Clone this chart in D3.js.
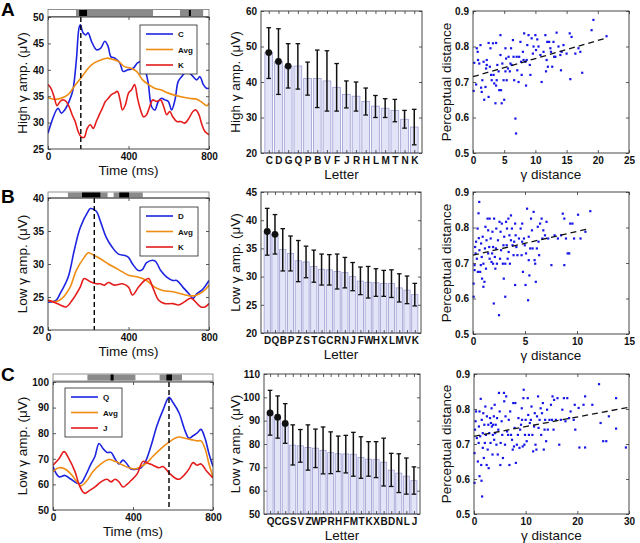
<!DOCTYPE html>
<html><head><meta charset="utf-8">
<script src="https://cdn.jsdelivr.net/npm/d3@7"></script>
<style>
body{margin:0;background:#fff;}
text{font-family:"Liberation Sans",Arial,Helvetica,sans-serif;}
</style></head>
<body><div id="chart"></div>
<script>
// ---------------- DATA ----------------
// Panel A time courses (time ms, value µV)
const A_C_t = [0,50,66,83,108,124,141,154,161,174,188,199,216,241,262,282,299,312,332,357,373,398,423,445,465,481,498,515,531,548,564,581,598,614,631,647,664,689,714,739,755,772,788,800];
const A_C_v = [28,32.7,31.8,32.4,34.3,36.2,41.9,47.9,48.5,47,46.6,47,45.4,43.8,44.1,45.4,44.4,42.5,42.2,41.3,39.7,40,40.3,41.3,41.6,40.3,37.5,33,32.4,34,34.6,34.3,34,32.4,34.3,37.8,38.7,39.7,39,38.1,38.7,37.2,36.5,36.5];
const A_Avg_t = [0,40,83,108,124,150,175,200,230,260,290,320,350,380,410,440,470,500,530,560,590,620,660,700,740,770,790,800];
const A_Avg_v = [34.7,34.4,34.9,35.6,36.5,37.8,39,40.3,41.3,41.8,42.2,42,41.6,40.6,40.3,39.7,38.1,37.2,36.5,36.2,35.7,35.3,34.9,34.6,34.4,33.7,33.2,33.7];
const A_K_t = [0,15,30,45,60,75,90,105,120,135,150,165,180,195,210,225,240,255,270,285,300,315,330,345,358,370,385,400,415,430,445,460,475,490,505,520,540,560,575,590,605,620,640,660,680,700,720,735,750,765,780,800];
const A_K_v = [37.2,36.5,34.9,33.2,34,34.3,34,33,31.5,30.2,28.3,27.3,27.2,28.9,29.6,28.9,30.2,31.5,32.7,34,34.6,35.3,35.6,35.9,34.3,32.4,33.4,35.6,36.2,37.2,34.6,32.4,31.1,31.5,33,34.3,34,34.3,33,31.5,32.1,31.1,30.2,30.2,29.9,30.8,32.1,32.4,31.5,29.6,28.3,27.7];

// Panel B time courses
const B_D_t = [0,40,60,100,130,160,200,210,240,260,290,320,350,380,400,420,450,470,490,530,560,590,620,640,670,700,720,740,770,800];
const B_D_v = [24.2,24.5,25.5,28,32,35.5,38,38.4,38,36.5,34,32.5,31.5,31.3,31,30,29,29.2,30.2,30.5,29,28,27.5,27.5,26.5,25.5,24.8,25.5,26.2,27.5];
const B_Avg_t = [0,40,70,110,140,180,200,230,260,300,330,370,400,450,490,530,570,620,660,700,730,770,800];
const B_Avg_v = [24.5,24.3,24.8,26.5,29,31,31.7,31.3,30.8,30,29.5,28.8,28.3,28,27.5,26.5,26,25.8,25.5,25.2,25.2,25.8,26.8];
const B_K_t = [0,30,60,90,120,160,180,210,240,260,280,300,330,370,400,420,450,480,500,520,550,580,620,650,680,710,760,780,800];
const B_K_v = [24.5,24.2,23.8,23.5,24.5,26.5,27.8,27.3,27,27,26.8,27.2,26.8,27,26.5,25.3,26.5,27.5,27.8,26.5,24.5,24,24,23.8,24.3,24.8,23.5,23.5,24];

// Panel C time courses
const C_Q_t = [0,30,60,90,120,140,160,190,210,230,250,270,290,310,330,350,370,390,420,440,460,490,520,550,580,600,630,660,680,700,720,740,760,780,800];
const C_Q_v = [67,63,63.5,62,60.5,60.5,63,68,71,76,74,72.5,72.5,70,68,69.5,68,66,66,66.5,68.5,75,83,89,94,92,88,81,78,79,80,81.5,78,72,67];
const C_Avg_t = [0,30,60,90,120,140,170,200,240,280,310,350,380,410,440,470,500,540,580,610,630,660,690,720,740,760,780,800];
const C_Avg_v = [65,66.5,66,64,61,59.5,61.5,65,68,69.7,69,67.5,66.5,66,67,68.5,71,74,76.5,78,78.5,78,77.5,77,77,74,68,63];
const C_J_t = [0,30,55,80,110,130,150,160,180,210,240,270,290,310,330,350,370,390,420,450,470,500,530,550,580,610,630,660,680,700,720,740,770,800];
const C_J_v = [67.5,70,72.8,70,65,60,57,56.5,57.5,59,61,62,61,62,61,59,60,61.5,64,69,68.5,67.5,66.5,67,64.5,62.5,62,64,66,68.5,67.5,68,65,62.5];

// Peak times (dashed markers)
const peakTimes = [163, 230, 580];

// Significance strips: [start ms, end ms, level] (1 = gray, 2 = black)
const stripA = [[139,522,1],[155,194,2],[656,771,1],[700,710,2]];
const stripB = [[99,296,1],[169,260,2],[326,471,1],[354,403,2]];
const stripC = [[172,412,1],[288,303,2],[533,645,1],[567,595,2]];

// Bar panels
const A_letters = ["C","D","G","Q","P","B","V","F","J","R","H","L","M","T","N","K"];
const A_mean = [48.3,45.8,44.5,44.5,41,41,40.3,38.5,36.5,36,34.5,33.2,32.6,32,29.5,27.3];
const A_lo   = [41,36.5,38.3,38,36.3,32.8,31.8,31.8,32.7,31.8,30.7,30,30,28.8,27,22.3];
const A_hi   = [55.3,55,50.8,50.8,45.6,49,48.8,45.2,40.3,40,38.3,36.2,35.3,35.1,32,32.3];
const A_sig  = 3;

const B_letters = ["D","Q","B","P","Z","S","T","G","C","R","N","J","F","W","H","X","L","M","V","K"];
const B_mean = [38,37.5,34.8,34.1,32.8,32.6,31.8,31.3,31.2,30.9,30.7,30,29.2,29,28.9,28.8,28.8,28,27.6,26.8];
const B_lo   = [33.8,34,31,31,29.1,29.8,29,28.5,28.5,27.8,28,27.5,26.8,26.2,26.5,26.5,26.3,25.5,25.2,24.8];
const B_hi   = [42.1,41,38.5,37.2,36.4,35.4,34.7,34,33.9,34,33.4,32.5,31.7,31.8,31.4,31.1,31.2,30.5,30.1,28.8];
const B_sig  = 2;

const C_letters = ["Q","C","G","S","V","Z","W","P","R","H","F","M","T","K","X","B","D","N","L","J"];
const C_mean = [93.3,91.5,88.8,79.5,79.2,78.5,78.2,77.3,76.3,75.8,75.7,75.6,74.2,73.5,73.3,72.2,68.8,67.5,66.2,64.3];
const C_lo   = [83.8,82.5,80.3,71,72.2,68.8,69.9,67.2,67.3,68.2,67.6,66.2,65.3,66.2,65.6,62,61.8,59.2,58.5,58.5];
const C_hi   = [103,100.6,97.3,88.2,86.2,88.2,86.4,87.3,85.2,83.4,83.7,85,83.1,81,81,82.5,76,75.8,74,70.2];
const C_sig  = 3;

// Scatter panels (γ distance, perceptual distance)
const SA_x = [0.1,0.2,0.5,0.6,0.75,0.8,1.0,1.2,1.3,1.4,1.5,1.7,1.8,2.0,2.1,2.2,2.2,2.5,2.5,2.7,2.8,2.9,3.0,3.2,3.3,3.4,3.6,3.7,3.7,3.8,3.9,4.1,4.2,4.4,4.4,4.5,4.6,4.7,4.9,5.0,5.2,5.2,5.3,5.4,5.6,5.7,5.9,6.0,6.1,6.2,6.4,6.5,6.6,6.8,6.9,7.0,7.1,7.3,7.4,7.6,7.7,7.8,8.0,8.1,8.2,8.4,8.5,8.6,8.7,8.9,9.1,9.2,9.4,9.6,9.7,10.0,10.1,10.3,10.5,10.8,11.0,11.3,11.6,11.7,11.8,11.9,12.0,12.2,12.4,12.5,12.7,12.9,13.0,13.2,13.4,13.7,14.0,14.1,14.2,14.5,15.0,15.5,15.6,15.8,16.4,16.9,17.2,17.5,19.0,19.3,21.4];
const SA_y = [0.675,0.754,0.693,0.795,0.785,0.762,0.752,0.804,0.684,0.672,0.705,0.757,0.65,0.686,0.738,0.762,0.748,0.81,0.658,0.743,0.795,0.72,0.705,0.809,0.72,0.696,0.64,0.81,0.69,0.705,0.748,0.73,0.677,0.832,0.776,0.677,0.64,0.752,0.705,0.65,0.795,0.73,0.766,0.705,0.738,0.771,0.73,0.752,0.795,0.748,0.818,0.771,0.705,0.597,0.555,0.771,0.733,0.7,0.771,0.813,0.757,0.72,0.785,0.762,0.837,0.757,0.69,0.762,0.804,0.832,0.748,0.72,0.823,0.78,0.8,0.832,0.79,0.82,0.8,0.776,0.7,0.785,0.832,0.73,0.762,0.813,0.743,0.813,0.795,0.785,0.743,0.813,0.771,0.771,0.839,0.8,0.776,0.733,0.785,0.804,0.78,0.837,0.708,0.827,0.78,0.795,0.785,0.726,0.846,0.875,0.829];
const SA_fit = [[0,0.715],[21.2,0.823]];

const SB_x = [0.06,0.06,0.15,0.15,0.2,0.25,0.3,0.37,0.44,0.47,0.53,0.56,0.6,0.62,0.69,0.75,0.78,0.84,0.87,0.93,1.0,1.0,1.1,1.15,1.2,1.25,1.3,1.4,1.46,1.46,1.56,1.6,1.6,1.7,1.78,1.84,1.87,1.93,1.93,2.0,2.03,2.1,2.15,2.2,2.24,2.3,2.4,2.5,2.55,2.6,2.65,2.7,2.77,2.87,2.93,2.96,3.0,3.1,3.1,3.18,3.24,3.27,3.33,3.4,3.43,3.5,3.55,3.65,3.65,3.74,3.8,3.9,3.96,4.05,4.05,4.1,4.17,4.27,4.42,4.58,4.67,4.73,4.73,4.8,4.9,4.98,5.05,5.1,5.2,5.3,5.36,5.36,5.42,5.5,5.58,5.67,5.73,5.83,5.92,5.98,6.04,6.14,6.23,6.3,6.36,6.45,6.6,6.67,6.76,6.92,7.07,7.23,7.54,7.85,8.16,8.47,8.63,8.78,8.78,8.94,9.1,9.25,9.35,9.56,9.72,10.1,10.34,10.81,11.28];
const SB_y = [0.605,0.642,0.68,0.694,0.745,0.727,0.76,0.712,0.797,0.675,0.84,0.77,0.872,0.736,0.675,0.694,0.755,0.717,0.656,0.774,0.633,0.698,0.647,0.741,0.802,0.684,0.764,0.825,0.792,0.727,0.745,0.712,0.825,0.769,0.703,0.727,0.788,0.745,0.698,0.586,0.825,0.717,0.684,0.741,0.797,0.698,0.764,0.553,0.816,0.712,0.788,0.736,0.811,0.698,0.75,0.656,0.774,0.605,0.698,0.816,0.75,0.797,0.712,0.825,0.731,0.778,0.698,0.834,0.764,0.797,0.75,0.722,0.76,0.811,0.638,0.778,0.745,0.722,0.769,0.797,0.722,0.76,0.811,0.675,0.769,0.75,0.638,0.727,0.853,0.595,0.708,0.774,0.665,0.741,0.825,0.792,0.741,0.844,0.708,0.698,0.647,0.741,0.802,0.76,0.722,0.811,0.825,0.769,0.792,0.778,0.816,0.769,0.694,0.778,0.769,0.778,0.839,0.825,0.694,0.769,0.727,0.727,0.811,0.811,0.769,0.836,0.769,0.788,0.846];
const SB_fit = [[0,0.722],[11.2,0.797]];

const SC_x = [0.1,0.1,0.2,0.3,0.4,0.55,0.75,0.9,0.95,1.07,1.07,1.2,1.3,1.4,1.45,1.5,1.57,1.7,1.7,1.8,1.9,2.0,2.1,2.2,2.3,2.45,2.5,2.65,2.77,2.83,2.96,3.1,3.2,3.27,3.4,3.46,3.58,3.65,3.7,3.84,3.9,4.0,4.1,4.2,4.34,4.46,4.6,4.7,4.84,4.97,5.1,5.16,5.35,5.47,5.6,5.8,5.85,6.0,6.1,6.23,6.4,6.6,6.73,6.86,7.0,7.17,7.36,7.5,7.6,7.74,7.86,8.0,8.1,8.3,8.5,8.6,8.8,8.93,9.1,9.25,9.3,9.43,9.56,9.62,9.75,9.87,10.0,10.2,10.4,10.5,10.63,10.8,11.0,11.13,11.3,11.45,11.63,11.76,11.9,12.08,12.2,12.4,12.5,12.7,12.9,13.0,13.16,13.33,13.5,13.65,13.77,13.96,14.15,14.28,14.6,14.9,15.1,15.2,15.4,15.5,15.85,16.16,16.5,16.8,17.1,17.4,17.7,18.05,18.4,18.7,19.3,19.5,19.6,20.25,20.4,21.2,21.5,21.5,22.9,24.2,24.5,25.0,25.6,26.1,27.5,27.5,29.4];
const SC_y = [0.589,0.674,0.741,0.765,0.793,0.717,0.65,0.703,0.75,0.608,0.793,0.722,0.829,0.64,0.595,0.769,0.55,0.689,0.731,0.788,0.66,0.755,0.703,0.807,0.726,0.64,0.779,0.684,0.755,0.631,0.731,0.774,0.703,0.76,0.802,0.75,0.67,0.726,0.755,0.779,0.712,0.812,0.731,0.755,0.698,0.774,0.67,0.741,0.846,0.793,0.64,0.703,0.765,0.726,0.66,0.846,0.822,0.698,0.779,0.836,0.736,0.726,0.769,0.64,0.793,0.726,0.712,0.684,0.817,0.693,0.746,0.817,0.646,0.698,0.726,0.774,0.689,0.741,0.755,0.802,0.769,0.693,0.831,0.855,0.698,0.726,0.769,0.708,0.831,0.783,0.726,0.76,0.769,0.807,0.726,0.679,0.75,0.788,0.698,0.684,0.779,0.836,0.746,0.769,0.802,0.726,0.788,0.817,0.684,0.741,0.769,0.708,0.798,0.741,0.769,0.812,0.769,0.836,0.741,0.826,0.769,0.831,0.698,0.769,0.798,0.831,0.765,0.831,0.774,0.793,0.769,0.812,0.741,0.803,0.69,0.812,0.836,0.69,0.812,0.871,0.76,0.708,0.708,0.779,0.831,0.744,0.69];
const SC_fit = [[0,0.722],[30,0.805]];

// ---------------- DRAWING ----------------
const W = 640, H = 543;
const svg = d3.select("#chart").append("svg").attr("width", W).attr("height", H);
const FRAME = "#333";
const TICKFONT = 10, TITLEFONT = 13.5;
const colBlue = "#1d24e0", colOrange = "#ef8c12", colRed = "#e51c1c";

function styleAxis(g, showLabels) {
  g.select(".domain").remove();
  g.selectAll(".tick line").attr("stroke", FRAME).attr("stroke-width", 0.8);
  g.selectAll(".tick text").attr("font-size", TICKFONT).attr("font-weight", "bold").attr("fill", "#111");
  if (!showLabels) g.selectAll(".tick text").remove();
}

function frame(x0, y0, x1, y1) {
  svg.append("rect").attr("x", x0).attr("y", y0).attr("width", x1 - x0).attr("height", y1 - y0)
    .attr("fill", "none").attr("stroke", FRAME).attr("stroke-width", 0.9);
}

function axes(x, y, xticks, yticks, box, xfmt, yfmt, bandTicks) {
  const [x0, y0, x1, y1] = box;
  const bottom = d3.axisBottom(x).tickSize(-3).tickPadding(4);
  const top = d3.axisTop(x).tickSize(-3);
  if (xticks) { bottom.tickValues(xticks); top.tickValues(xticks); }
  if (xfmt) bottom.tickFormat(xfmt);
  styleAxis(svg.append("g").attr("transform", `translate(0,${y1})`).call(bottom), true);
  styleAxis(svg.append("g").attr("transform", `translate(0,${y0})`).call(top), false);
  const left = d3.axisLeft(y).tickValues(yticks).tickSize(-3).tickPadding(4);
  if (yfmt) left.tickFormat(yfmt);
  const right = d3.axisRight(y).tickValues(yticks).tickSize(-3);
  styleAxis(svg.append("g").attr("transform", `translate(${x0},0)`).call(left), true);
  styleAxis(svg.append("g").attr("transform", `translate(${x1},0)`).call(right), false);
}

function titles(box, xt, yt, yx) {
  const [x0, y0, x1, y1] = box;
  svg.append("text").attr("x", (x0 + x1) / 2).attr("y", y1 + 26).attr("text-anchor", "middle")
    .attr("font-size", TITLEFONT).attr("fill", "#111").text(xt);
  svg.append("text").attr("transform", `translate(${yx},${(y0 + y1) / 2}) rotate(-90)`)
    .attr("text-anchor", "middle").attr("font-size", TITLEFONT).attr("fill", "#111").text(yt);
}

function linePanel(o) {
  const box = o.box, [x0, y0, x1, y1] = box;
  const x = d3.scaleLinear().domain([0, 800]).range([x0, x1]);
  const y = d3.scaleLinear().domain(o.ydom).range([y1, y0]);
  // strip
  svg.append("rect").attr("x", x0).attr("y", o.strip[0]).attr("width", x1 - x0).attr("height", o.strip[1] - o.strip[0])
    .attr("fill", "#fff").attr("stroke", "#777").attr("stroke-width", 0.8);
  o.segs.forEach(s => {
    svg.append("rect").attr("x", x(s[0])).attr("y", o.strip[0] + 0.5).attr("width", x(s[1]) - x(s[0]))
      .attr("height", o.strip[1] - o.strip[0] - 1).attr("fill", s[2] === 2 ? "#000" : "#8a8a8a");
  });
  const clip = "clip" + o.id;
  svg.append("clipPath").attr("id", clip).append("rect").attr("x", x0).attr("y", y0).attr("width", x1 - x0).attr("height", y1 - y0);
  const line = d3.line().x(d => x(d[0])).y(d => y(d[1])).curve(d3.curveCatmullRom.alpha(0.5));
  o.series.forEach(s => {
    const pts = s.t.map((t, i) => [t, s.v[i]]);
    svg.append("path").attr("d", line(pts)).attr("fill", "none").attr("stroke", s.color)
      .attr("stroke-width", 1.6).attr("clip-path", `url(#${clip})`);
  });
  svg.append("line").attr("x1", x(o.peak)).attr("x2", x(o.peak)).attr("y1", y0).attr("y2", y1)
    .attr("stroke", "#000").attr("stroke-width", 1.4).attr("stroke-dasharray", "5,3");
  axes(x, y, [0, 400, 800], o.yticks, box, null, null);
  frame(x0, y0, x1, y1);
  // legend
  const L = o.legend;
  svg.append("rect").attr("x", L.x).attr("y", L.y).attr("width", L.w).attr("height", L.h)
    .attr("fill", "#fff").attr("stroke", "#222").attr("stroke-width", 0.8);
  o.series.forEach((s, i) => {
    const yy = L.y + 9 + i * 15.5;
    svg.append("line").attr("x1", L.x + 6).attr("x2", L.x + 33).attr("y1", yy).attr("y2", yy)
      .attr("stroke", s.color).attr("stroke-width", 1.6);
    svg.append("text").attr("x", L.x + 38).attr("y", yy + 3).attr("font-size", 8).attr("font-weight", "bold")
      .attr("fill", "#111").text(s.name);
  });
  titles(box, "Time (ms)", o.ytitle, 27);
  svg.append("text").attr("x", 1).attr("y", o.letterY).attr("font-size", 19).attr("font-weight", "bold").text(o.letter);
}

function barPanel(o) {
  const box = o.box, [x0, y0, x1, y1] = box;
  const n = o.letters.length;
  const x = d3.scaleLinear().domain([0.2, n + 0.8]).range([x0, x1]);
  const y = d3.scaleLinear().domain(o.ydom).range([y1, y0]);
  const bw = (x(1.8) - x(1)) ;
  const idx = d3.range(1, n + 1);
  svg.append("g").selectAll("rect").data(idx).join("rect")
    .attr("x", i => x(i) - bw / 2).attr("width", bw)
    .attr("y", i => y(o.mean[i - 1])).attr("height", i => y(o.ydom[0]) - y(o.mean[i - 1]))
    .attr("fill", "#e4e4f8").attr("stroke", "#9d9dd2").attr("stroke-width", 0.8);
  const g = svg.append("g");
  idx.forEach(i => {
    const cx = x(i), lo = y(o.lo[i - 1]), hi = y(o.hi[i - 1]);
    g.append("line").attr("x1", cx).attr("x2", cx).attr("y1", lo).attr("y2", hi).attr("stroke", "#111").attr("stroke-width", 1.5);
    [lo, hi].forEach(v => g.append("line").attr("x1", cx - 2.3).attr("x2", cx + 2.3).attr("y1", v).attr("y2", v)
      .attr("stroke", "#111").attr("stroke-width", 1.3));
    if (i <= o.sig) g.append("circle").attr("cx", cx).attr("cy", y(o.mean[i - 1])).attr("r", 3.4).attr("fill", "#111");
  });
  axes(x, y, idx, o.yticks, box, i => o.letters[i - 1], null);
  frame(x0, y0, x1, y1);
  titles(box, "Letter", o.ytitle, 240);
}

function scatterPanel(o) {
  const box = o.box, [x0, y0, x1, y1] = box;
  const x = d3.scaleLinear().domain(o.xdom).range([x0, x1]);
  const y = d3.scaleLinear().domain([0.5, 0.9]).range([y1, y0]);
  svg.append("g").selectAll("rect").data(o.xs).join("rect")
    .attr("x", (d, i) => x(d) - 1.1).attr("y", (d, i) => y(o.ys[i]) - 1.1)
    .attr("width", 2.2).attr("height", 2.2).attr("fill", "#1515e8");
  svg.append("line").attr("x1", x(o.fit[0][0])).attr("y1", y(o.fit[0][1]))
    .attr("x2", x(o.fit[1][0])).attr("y2", y(o.fit[1][1]))
    .attr("stroke", "#111").attr("stroke-width", 1.3).attr("stroke-dasharray", "6,4");
  axes(x, y, o.xticks, [0.5, 0.6, 0.7, 0.8, 0.9], box, null, d3.format(".1f"));
  frame(x0, y0, x1, y1);
  titles(box, "γ distance", "Perceptual distance", 451);
}

// Row A
linePanel({id: "A", letter: "A", letterY: 16, box: [48, 17, 209, 149], ydom: [25, 50], yticks: [25, 30, 35, 40, 45, 50],
  strip: [9.5, 16.5], segs: stripA, peak: peakTimes[0], ytitle: "High γ amp. (μV)",
  series: [{name: "C", t: A_C_t, v: A_C_v, color: colBlue}, {name: "Avg", t: A_Avg_t, v: A_Avg_v, color: colOrange}, {name: "K", t: A_K_t, v: A_K_v, color: colRed}],
  legend: {x: 140, y: 25, w: 57, h: 49}});
barPanel({box: [261, 11, 422, 153], ydom: [20, 60], yticks: [20, 30, 40, 50, 60], letters: A_letters, mean: A_mean, lo: A_lo, hi: A_hi, sig: A_sig, ytitle: "High γ amp. (μV)"});
scatterPanel({box: [473, 11, 629, 153], xdom: [0, 25], xticks: [0, 5, 10, 15, 20, 25], xs: SA_x, ys: SA_y, fit: SA_fit});

// Row B
linePanel({id: "B", letter: "B", letterY: 203, box: [48, 198, 209, 330], ydom: [20, 40], yticks: [20, 25, 30, 35, 40],
  strip: [192, 198], segs: stripB, peak: peakTimes[1], ytitle: "Low γ amp. (μV)",
  series: [{name: "D", t: B_D_t, v: B_D_v, color: colBlue}, {name: "Avg", t: B_Avg_t, v: B_Avg_v, color: colOrange}, {name: "K", t: B_K_t, v: B_K_v, color: colRed}],
  legend: {x: 140, y: 207, w: 58, h: 49}});
barPanel({box: [261, 192, 421, 333], ydom: [20, 45], yticks: [20, 25, 30, 35, 40, 45], letters: B_letters, mean: B_mean, lo: B_lo, hi: B_hi, sig: B_sig, ytitle: "Low γ amp. (μV)"});
scatterPanel({box: [473, 192, 629, 334], xdom: [0, 15], xticks: [0, 5, 10, 15], xs: SB_x, ys: SB_y, fit: SB_fit});

// Row C
linePanel({id: "C", letter: "C", letterY: 381, box: [53, 382, 213, 510], ydom: [50, 100], yticks: [50, 60, 70, 80, 90, 100],
  strip: [374, 381], segs: stripC, peak: peakTimes[2], ytitle: "Low γ amp. (μV)",
  series: [{name: "Q", t: C_Q_t, v: C_Q_v, color: colBlue}, {name: "Avg", t: C_Avg_t, v: C_Avg_v, color: colOrange}, {name: "J", t: C_J_t, v: C_J_v, color: colRed}],
  legend: {x: 65, y: 388, w: 57, h: 49}});
barPanel({box: [264, 374, 420, 514], ydom: [50, 110], yticks: [50, 60, 70, 80, 90, 100, 110], letters: C_letters, mean: C_mean, lo: C_lo, hi: C_hi, sig: C_sig, ytitle: "Low γ amp. (μV)"});
scatterPanel({box: [474, 374, 629, 514], xdom: [0, 30], xticks: [0, 10, 20, 30], xs: SC_x, ys: SC_y, fit: SC_fit});
</script></body></html>
